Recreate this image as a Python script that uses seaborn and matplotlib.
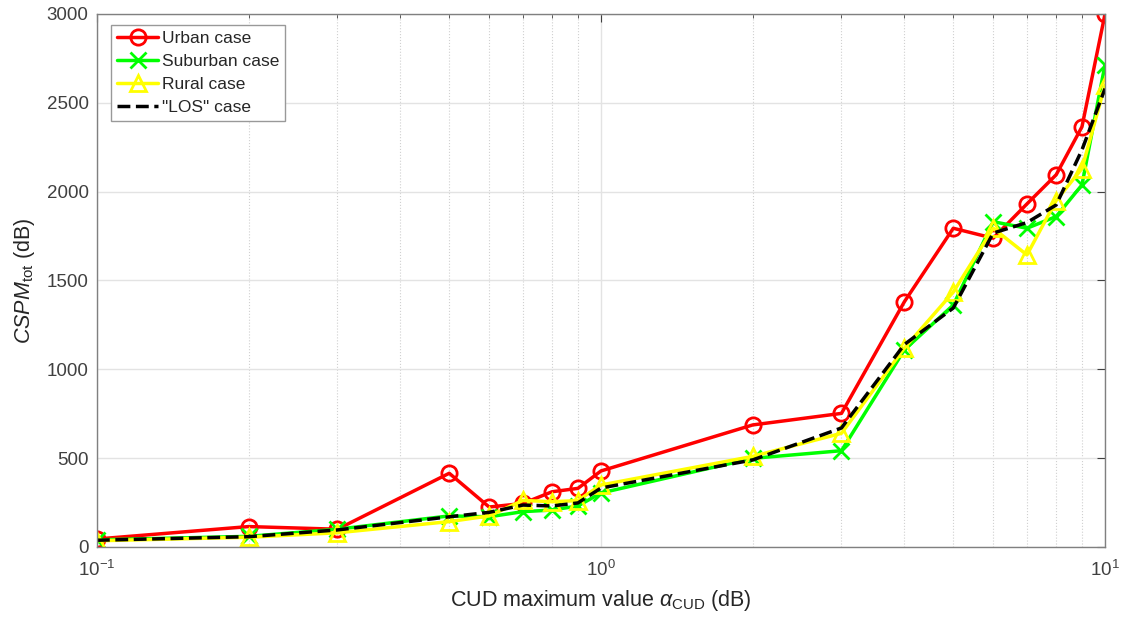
import numpy as np
import pandas as pd
import matplotlib
matplotlib.use("Agg")
import matplotlib.pyplot as plt
import seaborn as sns
from matplotlib.ticker import LogLocator, NullFormatter

# Valores de alpha_CUD (dB)
alpha = [0.1, 0.2, 0.3, 0.5, 0.6, 0.7, 0.8, 0.9, 1, 2, 3, 4, 5, 6, 7, 8, 9, 10]

# CSPM_tot por escenario
urbano = [45, 115, 100, 415, 225, 245, 311, 330, 428, 687, 752, 1381, 1794, 1738, 1931, 2095, 2365, 3000]
suburbano = [40, 60, 100, 175, 170, 199, 208, 231, 304, 499, 542, 1110, 1362, 1831, 1794, 1860, 2038, 2715]
rural = [35, 55, 80, 143, 175, 262, 255, 261, 349, 510, 640, 1120, 1435, 1794, 1644, 1950, 2130, 2600]
los = [38, 58, 96, 170, 195, 236, 231, 248, 332, 490, 670, 1140, 1345, 1767, 1826, 1925, 2235, 2580]

series = [
    ("Urban case", urbano, "#ff0000", "o", "-"),
    ("Suburban case", suburbano, "#00ff00", "x", "-"),
    ("Rural case", rural, "#ffff00", "^", "-"),
    ('"LOS" case', los, "#000000", None, "--"),
]

sns.set_style("white")
plt.rcParams["font.family"] = ["Liberation Sans", "DejaVu Sans"]
plt.rcParams["mathtext.fontset"] = "custom"
plt.rcParams["mathtext.rm"] = "Liberation Sans"
plt.rcParams["mathtext.it"] = "Liberation Sans:italic"

fig = plt.figure(figsize=(11.27, 6.24), dpi=100)
ax = fig.add_axes([0.086, 0.1234, 0.8945, 0.8542])

for nombre, valores, color, marcador, estilo in series:
    df = pd.DataFrame({"x": alpha, "y": valores})
    sns.lineplot(data=df, x="x", y="y", ax=ax, color=color, marker=marcador,
                 linestyle=estilo, linewidth=2.5, markersize=11,
                 markeredgewidth=2, markerfacecolor="none", markeredgecolor=color,
                 label=nombre, sort=False)

ax.set_xscale("log")
ax.set_xlim(0.1, 10)
ax.set_ylim(0, 3000)
ax.set_yticks(np.arange(0, 3001, 500))
ax.xaxis.set_minor_locator(LogLocator(base=10, subs=np.arange(2, 10)))
ax.xaxis.set_minor_formatter(NullFormatter())

ax.grid(True, which="major", color="#e3e3e3", linestyle="-", linewidth=1)
ax.grid(True, which="minor", axis="x", color="#d0d0d0", linestyle=":", linewidth=0.8)

ax.tick_params(which="both", direction="in", top=True, right=True,
               labelsize=13.5, colors="#404040", length=6)
ax.tick_params(which="minor", length=3)
ax.tick_params(axis="x", which="major", pad=9)
ax.tick_params(axis="y", which="major", pad=6)
for s in ax.spines.values():
    s.set_color("#808080")
    s.set_linewidth(1)

ax.set_xlabel(r"CUD maximum value $\alpha_{\mathrm{CUD}}$ (dB)", fontsize=15.5,
              color="#262626", labelpad=6)
ax.set_ylabel(r"$\mathit{CSPM}_{\mathrm{tot}}$ (dB)", fontsize=15.5,
              color="#262626", labelpad=7)

leg = ax.legend(loc="upper left", fontsize=12.5, frameon=True, fancybox=False,
                framealpha=1, edgecolor="#999999", handlelength=2.4,
                handletextpad=0.2, borderpad=0.35, labelspacing=0.45,
                bbox_to_anchor=(0.005, 0.996))

fig.savefig("out.png", dpi=100)
